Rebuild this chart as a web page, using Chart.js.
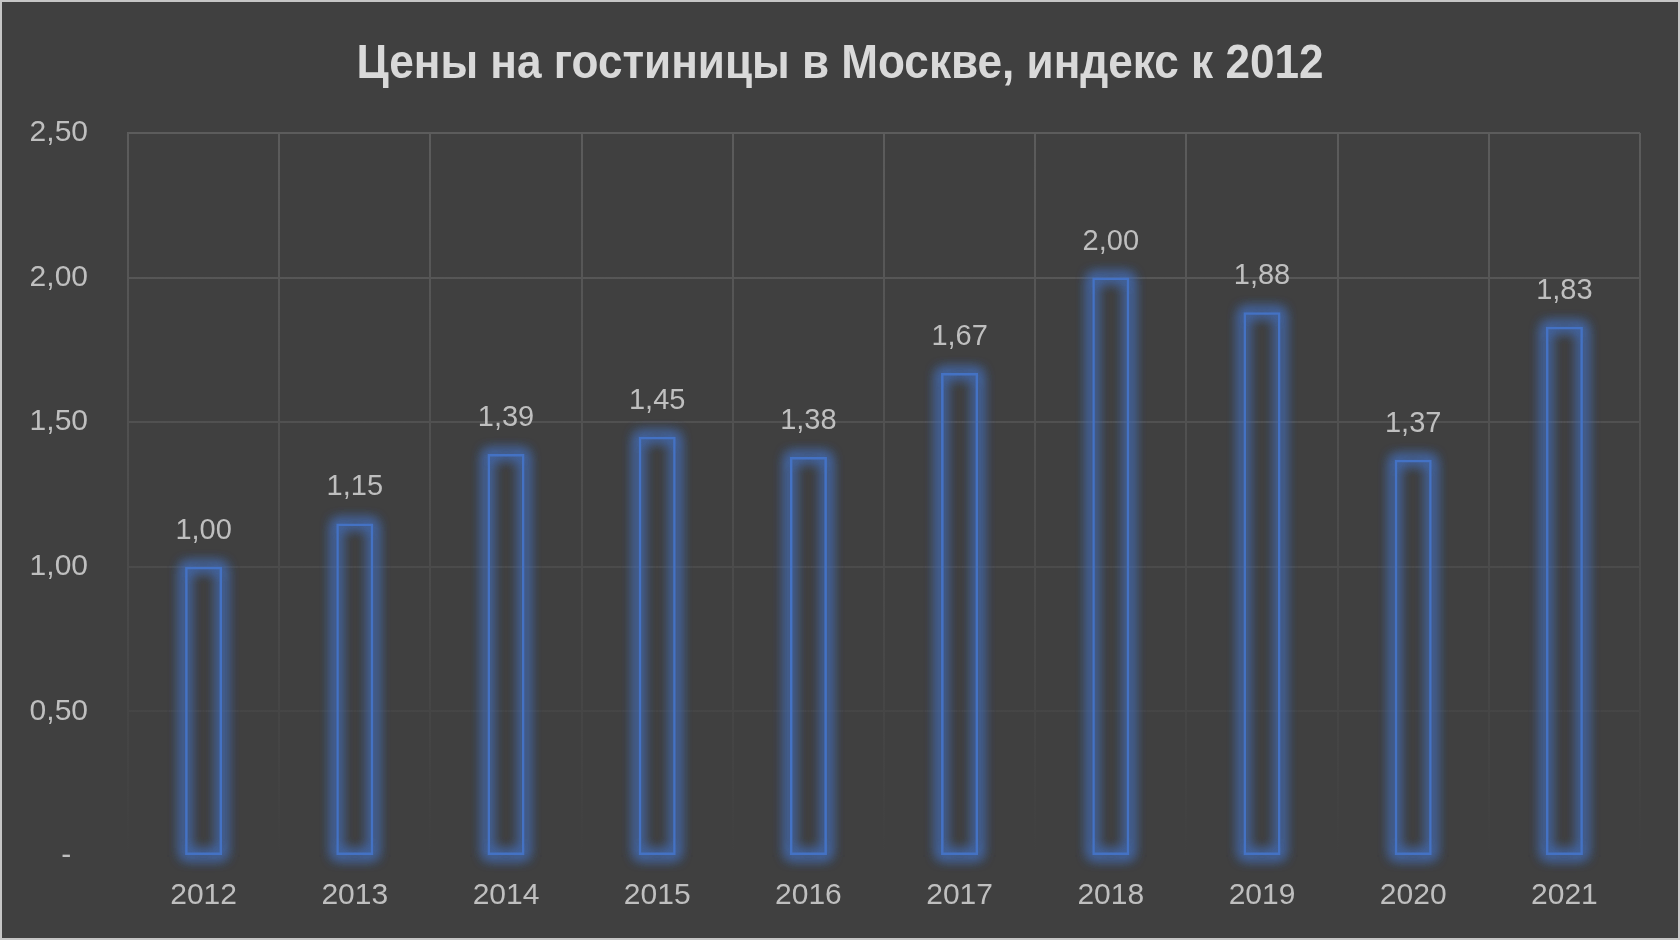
<!DOCTYPE html>
<html>
<head>
<meta charset="utf-8">
<script src="https://cdn.jsdelivr.net/npm/chart.js@4"></script>
<style>
  html, body { margin: 0; padding: 0; background: #404040; }
  #wrap {
    position: absolute; left: 0; top: 0;
    width: 1680px; height: 940px;
    box-sizing: border-box;
    border: 2px solid #c6c6c6;
    background: #404040;
  }
  #chart { display: block; }
</style>
</head>
<body>
<div id="wrap"><canvas id="chart" width="1676" height="936"></canvas></div>
<script>
// ── Data ──────────────────────────────────────────────────────────────────────
const titleText = "Цены на гостиницы в Москве, индекс к 2012";
const years = ["2012", "2013", "2014", "2015", "2016", "2017", "2018", "2019", "2020", "2021"];
const priceIndex = [1.00, 1.15, 1.39, 1.45, 1.38, 1.67, 2.00, 1.88, 1.37, 1.83];
const yTicks = [0, 0.5, 1, 1.5, 2, 2.5];

const FONT = '"Liberation Sans Narrow", "Arial Narrow", "Liberation Sans", Arial, sans-serif';
const BLUE = "#4472c4";

// ── Format helpers ────────────────────────────────────────────────────────────
function fmtNum(v) {
  if (v === 0) return "-  ";
  return v.toFixed(2).replace(".", ",");
}

// grid fades out toward the bottom of the plot
function gridColor(ctx) {
  const chart = ctx.chart;
  const area = chart.chartArea;
  if (!area) return "#555555";
  const g = chart.ctx.createLinearGradient(0, area.top, 0, area.bottom);
  g.addColorStop(0, "#5c5c5c");
  g.addColorStop(1, "#404040");
  return g;
}

// ── Plugins ───────────────────────────────────────────────────────────────────
// condensed bold title (no narrow font installed, so squeeze it horizontally)
const titlePlugin = {
  id: "narrowTitle",
  afterDraw(chart) {
    const c = chart.ctx;
    c.save();
    c.font = "bold 49px " + FONT;
    c.fillStyle = "#d9d9d9";
    c.textAlign = "center";
    c.textBaseline = "alphabetic";
    const w = c.measureText(titleText).width;
    const sx = Math.min(1, 967 / w);
    c.translate(chart.width / 2, 76);
    c.scale(sx, 1);
    c.fillText(titleText, 0, 0);
    c.restore();
  },
};

// soft blue glow: stroke off-canvas, keep only the shadow
const glowPlugin = {
  id: "glow",
  beforeDatasetsDraw(chart) {
    const c = chart.ctx;
    const off = 5000;
    c.save();
    c.shadowColor = "rgba(68,114,196,1)";
    c.shadowBlur = 13;
    c.shadowOffsetX = off;
    c.strokeStyle = BLUE;
    c.lineWidth = 4;
    for (let k = 0; k < 3; k++) {
      chart.getDatasetMeta(0).data.forEach(bar => {
        const p = bar.getProps(["x", "y", "base", "width"], true);
        c.strokeRect(p.x - p.width / 2 - off, p.y, p.width, p.base - p.y);
      });
    }
    c.restore();
  },
};

const labelPlugin = {
  id: "valueLabels",
  afterDatasetsDraw(chart) {
    const c = chart.ctx;
    c.save();
    c.font = "29px " + FONT;
    c.fillStyle = "#bfbfbf";
    c.textAlign = "center";
    c.textBaseline = "middle";
    const vals = chart.data.datasets[0].data;
    chart.getDatasetMeta(0).data.forEach((bar, i) => {
      const p = bar.getProps(["x", "y"], true);
      c.fillText(fmtNum(vals[i]), p.x, p.y - 36);
    });
    c.restore();
  },
};

// ── Chart ─────────────────────────────────────────────────────────────────────
new Chart(document.getElementById("chart"), {
  type: "bar",
  data: {
    labels: years,
    datasets: [{
      data: priceIndex,
      backgroundColor: "rgba(0,0,0,0)",
      borderColor: BLUE,
      borderWidth: 2.5,
      borderSkipped: false,
      categoryPercentage: 1,
      barPercentage: 0.245,
    }],
  },
  options: {
    responsive: false,
    animation: false,
    layout: { padding: { left: 0, right: 38, top: 131, bottom: 0 } },
    plugins: {
      legend: { display: false },
      tooltip: { enabled: false },
      title: { display: false },
    },
    scales: {
      x: {
        grid: { color: gridColor, lineWidth: 2, drawTicks: false, offset: true },
        border: { display: false },
        ticks: { color: "#bfbfbf", font: { family: FONT, size: 30 }, padding: 22 },
        afterFit(scale) { scale.height = 82; },
      },
      y: {
        min: 0,
        max: 2.5,
        afterBuildTicks(scale) { scale.ticks = yTicks.map(v => ({ value: v })); },
        grid: { color: gridColor, lineWidth: 2, drawTicks: false },
        border: { display: true, color: gridColor, width: 2 },
        ticks: {
          color: "#bfbfbf",
          font: { family: FONT, size: 30 },
          padding: 40,
          callback: v => fmtNum(v),
        },
        afterFit(scale) { scale.width = 126; },
      },
    },
  },
  plugins: [glowPlugin, labelPlugin, titlePlugin],
});
</script>
</body>
</html>
